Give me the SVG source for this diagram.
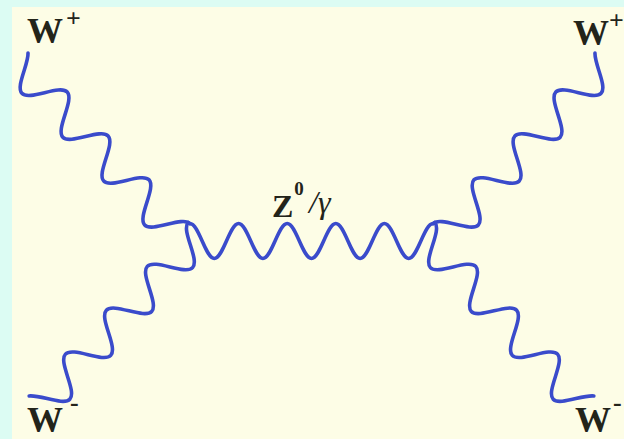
<svg xmlns="http://www.w3.org/2000/svg" xmlns:xlink="http://www.w3.org/1999/xlink" width="624" height="439" viewBox="0 0 624 439">
<style>
.wave{fill:none;stroke:#3a4bcb;stroke-width:3.6;stroke-linecap:round;stroke-linejoin:round}
.lbl{font-family:"Liberation Serif","Times New Roman",serif;font-weight:bold;fill:#23241a}
.w{font-size:36px}
.sup{font-size:26px}
.z{font-size:32px}
.zs{font-size:19px}
.g{font-size:32px;font-weight:normal;font-style:italic}
</style>
<defs>
<path id="wdiag" d="M4.71,2.026 C8.256,5.012 11.576,10.904 15,17 c4.892,8.709 9.571,17 15,17 c5.429,0 10.108,-8.291 15,-17 c4.892,-8.709 9.571,-17 15,-17 c5.429,0 10.108,8.291 15,17 c4.892,8.709 9.571,17 15,17 c5.429,0 10.108,-8.291 15,-17 c4.892,-8.709 9.571,-17 15,-17 c5.429,0 10.108,8.291 15,17 c4.892,8.709 9.571,17 15,17 c5.429,0 10.108,-8.291 15,-17 c4.892,-8.709 9.571,-17 15,-17 c5.429,0 10.108,8.291 15,17 c4.892,8.709 9.571,17 15,17 c5.429,0 10.108,-8.291 15,-17 c4.892,-8.709 9.571,-17 15,-17"/>
</defs>
<rect x="0" y="0" width="624" height="439" fill="#dcfcf3"/>
<rect x="12" y="7" width="612" height="432" fill="#fdfde6"/>
<g id="connectors">
<use xlink:href="#wdiag" class="wave" transform="translate(26.3,48.2) rotate(47)"/>
<use xlink:href="#wdiag" class="wave" transform="translate(24.5,398) rotate(-47)"/>
<use xlink:href="#wdiag" class="wave" transform="translate(623,0) scale(-1,1) translate(26.3,48.2) rotate(47)"/>
<use xlink:href="#wdiag" class="wave" transform="translate(623,0) scale(-1,1) translate(24.5,398) rotate(-47)"/>
<path class="wave" d="M190,223.5 c4.397,0 8.188,8.535 12.15,17.5 c3.962,8.965 7.753,17.5 12.15,17.5 c4.397,0 8.188,-8.535 12.15,-17.5 c3.962,-8.965 7.753,-17.5 12.15,-17.5 c4.397,0 8.188,8.535 12.150,17.5 c3.962,8.965 7.753,17.5 12.15,17.5 c4.397,0 8.188,-8.535 12.15,-17.5 c3.962,-8.965 7.753,-17.5 12.15,-17.5 c4.397,0 8.188,8.535 12.15,17.5 c3.962,8.965 7.753,17.5 12.15,17.5 c4.397,0 8.188,-8.535 12.15,-17.5 c3.962,-8.965 7.753,-17.5 12.15,-17.5 c4.397,0 8.188,8.535 12.15,17.5 c3.962,8.965 7.753,17.5 12.15,17.5 c4.397,0 8.188,-8.535 12.15,-17.5 c3.962,-8.965 7.753,-17.5 12.15,-17.5 c4.397,0 8.188,8.535 12.15,17.5 c3.962,8.965 7.753,17.5 12.15,17.5 c4.397,0 8.188,-8.535 12.15,-17.5 c3.962,-8.965 7.753,-17.5 12.15,-17.5"/>
</g>
<g id="w-plus-in"><text class="lbl w" x="27" y="43">W<tspan class="sup" dx="3" dy="-16">+</tspan></text></g>
<g id="w-minus-in"><text class="lbl w" x="27" y="432">W<tspan class="sup" dx="7" dy="-21">-</tspan></text></g>
<g id="w-plus-out"><text class="lbl w" x="573" y="45">W<tspan class="sup" dx="0" dy="-16">+</tspan></text></g>
<g id="w-minus-out"><text class="lbl w" x="575" y="432">W<tspan class="sup" dx="2" dy="-21">-</tspan></text></g>
<g id="propagator-label"><text class="lbl z" x="272" y="217">Z<tspan class="zs" dx="1" dy="-22">0</tspan><tspan class="g" x="309" y="213">/γ</tspan></text></g>
</svg>
